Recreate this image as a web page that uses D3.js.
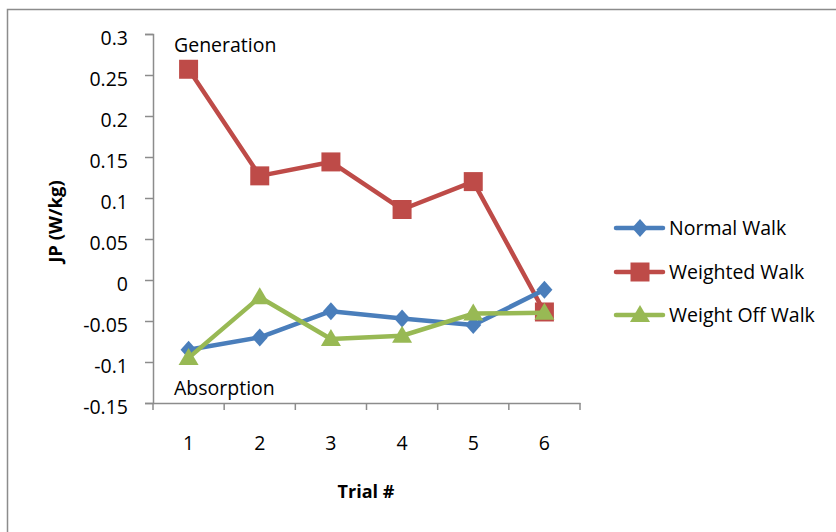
<!DOCTYPE html>
<html><head><meta charset="utf-8">
<script src="https://cdn.jsdelivr.net/npm/d3@7"></script>
<style>
html,body{margin:0;padding:0;background:#fff;}
svg text{font-family:"Open Sans","Noto Sans",sans-serif;fill:#000;}
</style></head>
<body>
<svg id="c" width="836" height="532"></svg>
<script>
const categories = ["1","2","3","4","5","6"];
const normalWalk   = [-0.085, -0.070, -0.038, -0.047, -0.055, -0.012];
const weightedWalk = [0.257, 0.127, 0.144, 0.086, 0.120, -0.039];
const weightOffWalk= [-0.095, -0.021, -0.072, -0.068, -0.041, -0.040];
const yTicks = [0.3,0.25,0.2,0.15,0.1,0.05,0,-0.05,-0.1,-0.15];
const seriesNames = ["Normal Walk","Weighted Walk","Weight Off Walk"];
const seriesColors = ["#4a7ebb","#be4b48","#98b954"];
const seriesMarkers = ["diamond","square","triangle"];

const FS = 19.5;
const svg = d3.select("#c");
svg.append("path").attr("d","M7.5,532 V9.5 H836").attr("fill","none").attr("stroke","#8c8c8c").attr("stroke-width",1.5);

const pL=153, pR=580, pT=34, pB=403;
const x = d3.scaleBand().domain(categories).range([pL,pR]);
const y = d3.scaleLinear().domain([-0.15,0.3]).range([pB,pT]);

const fmt = d => (d===0?"0":String(d));
const yAxis = svg.append("g").attr("transform",`translate(${pL},0)`)
  .call(d3.axisLeft(y).tickValues(yTicks).tickFormat(fmt).tickSize(8).tickPadding(17));
const xAxis = svg.append("g").attr("transform",`translate(0,${pB})`)
  .call(d3.axisBottom(x).tickSize(0).tickPadding(33));
const bounds = categories.map(c=>x(c)).concat([pR]);
xAxis.selectAll(".bt").data(bounds).enter().append("line")
  .attr("x1",d=>d).attr("x2",d=>d).attr("y1",0).attr("y2",7).attr("stroke","#8c8c8c").attr("stroke-width",1.5);
[yAxis,xAxis].forEach(a=>{
  a.select(".domain").attr("stroke","#8c8c8c").attr("stroke-width",1.5);
  a.selectAll(".tick line").attr("stroke","#8c8c8c").attr("stroke-width",1.5);
  a.selectAll("text").attr("font-size",FS).attr("font-family","Open Sans, sans-serif").attr("fill","#000");
});
yAxis.selectAll("text").attr("dy","0.54em");

const cx = c => x(c)+x.bandwidth()/2;
function markerPath(m){
  if(m==="diamond"){ return "M0,-9 L8,0 L0,9 L-8,0 Z"; }
  if(m==="square"){ return "M-9.5,-9.5 H9.5 V9.5 H-9.5 Z"; }
  return "M0,-10 L10,7 L-10,7 Z";
}
const data = [normalWalk, weightedWalk, weightOffWalk];
const line = d3.line().x((d,i)=>cx(categories[i])).y(d=>y(d));
[1,0,2].forEach(s=>{
  const g = svg.append("g");
  g.append("path").attr("d",line(data[s])).attr("fill","none").attr("stroke",seriesColors[s]).attr("stroke-width",4.5).attr("stroke-linejoin","round");
  g.selectAll("path.m").data(data[s]).enter().append("path").attr("class","m")
    .attr("transform",(d,i)=>`translate(${cx(categories[i])},${y(d)})`)
    .attr("d",markerPath(seriesMarkers[s])).attr("fill",seriesColors[s]);
});

svg.append("text").attr("x",174).attr("y",52).attr("font-size",FS).text("Generation");
svg.append("text").attr("x",174).attr("y",395).attr("font-size",FS).text("Absorption");

svg.append("text").attr("transform","translate(62,221.5) rotate(-90)").attr("text-anchor","middle")
  .attr("font-size",18.5).attr("font-weight","bold").text("JP (W/kg)");
svg.append("text").attr("x",366).attr("y",498).attr("text-anchor","middle")
  .attr("font-size",18).attr("font-weight","bold").text("Trial #");

const legY = [228,272,315];
seriesNames.forEach((n,i)=>{
  const g = svg.append("g").attr("transform",`translate(0,${legY[i]})`);
  g.append("line").attr("x1",616).attr("x2",663).attr("y1",0).attr("y2",0).attr("stroke",seriesColors[i]).attr("stroke-width",4.5).attr("stroke-linecap","round");
  g.append("path").attr("transform","translate(640,0)").attr("d",markerPath(seriesMarkers[i])).attr("fill",seriesColors[i]);
  g.append("text").attr("x",669).attr("y",0).attr("dy","0.36em").attr("font-size",FS).text(n);
});
</script>
</body></html>
